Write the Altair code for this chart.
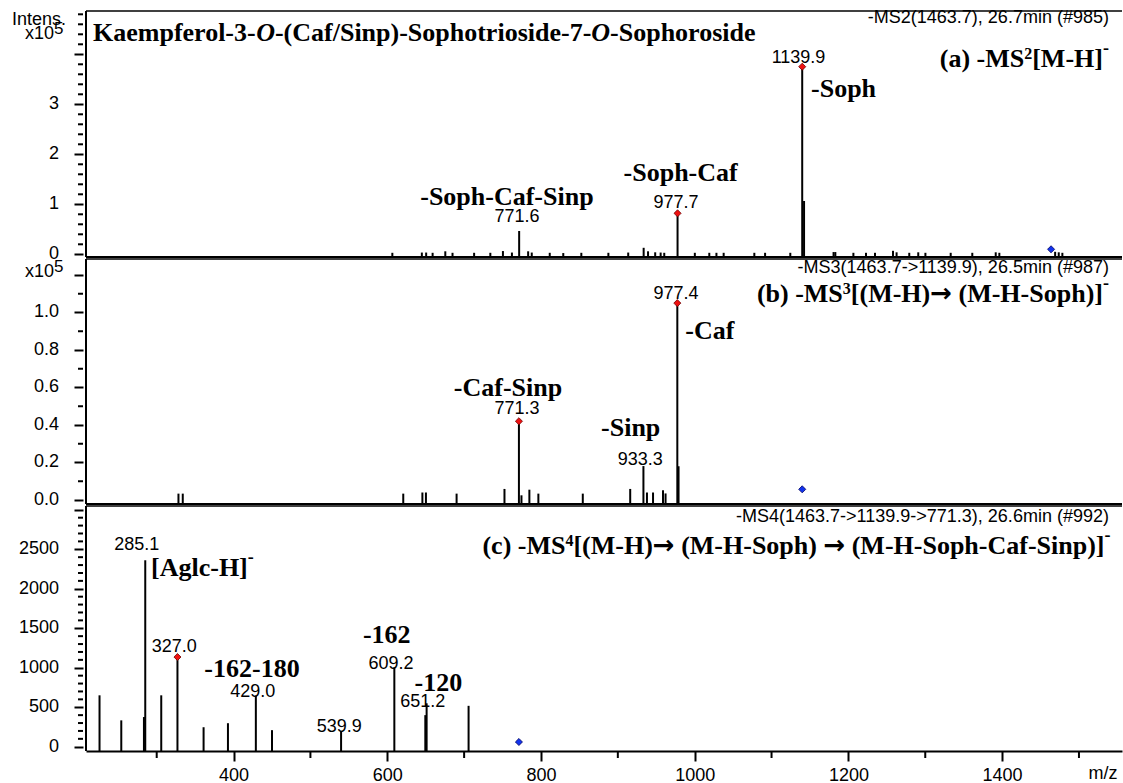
import altair as alt
import pandas as pd

SANS = "Liberation Sans"
SERIF = "Liberation Serif"
ARROW_FONT = "DejaVu Sans"

X_DOMAIN = [208, 1556]
PANEL_W = 1036
H_A, H_B, H_C = 246, 245, 245

# ---------------- panel (a): -MS2 [M-H]- ----------------
mz_a = [606.6, 645.0, 650.6, 659.0, 675.5, 684.9, 713.0, 734.1, 750.5, 762.2,
        771.6, 783.3, 788.0, 811.4, 829.0, 852.5, 887.7, 913.5, 933.6, 939.3,
        948.6, 955.7, 960.4, 977.7, 1000.2, 1019.0, 1028.3, 1037.7, 1077.6, 1091.6,
        1124.4, 1139.9, 1142.3, 1180.7, 1183.0, 1206.5, 1222.9, 1234.6, 1258.0, 1262.7,
        1279.2, 1290.9, 1300.2, 1333.1, 1361.2, 1391.7, 1396.4, 1469.0, 1473.7, 1478.4]
int_a = [3000, 3500, 3500, 3000, 6000, 3000, 3000, 3000, 6500, 3500,
         46600, 6000, 3500, 3000, 2500, 3000, 3000, 3500, 13000, 6000,
         4000, 3500, 3000, 82000, 3000, 3000, 3000, 3000, 3000, 3000,
         3000, 375200, 106600, 4500, 4500, 3000, 3000, 3000, 7000, 4000,
         3000, 4000, 3000, 3000, 3000, 4000, 3000, 5000, 4000, 3000]
red_mz_a = [977.7, 1139.9]
red_int_a = [82000, 375200]
blue_mz_a = [1463.7]
blue_int_a = [10000]
ydom_a = [-5400, 486600]

ann_a_text = ["-MS2(1463.7), 26.7min (#985)", "1139.9", "-Soph",
              "-Soph-Caf", "977.7", "-Soph-Caf-Sinp", "771.6"]
ann_a_mz = [1539, 1135.1, 1151.4, 981.7, 975.7, 755.7, 768.8]
ann_a_int = [472000, 393200, 330000, 163200, 103200, 114200, 75600]
ann_a_kind = ["scan", "num", "fragL", "frag", "num", "frag", "num"]

title_pieces = ["Kaempferol-3-", "O", "-(Caf/Sinp)-Sophotrioside-7-", "O", "-Sophoroside"]
title_styles = ["normal", "italic", "normal", "italic", "normal"]
title_mz = 217.1
title_int = 443200

# headline of panel (a): (text, role) pieces -> "(a) -MS²[M-H]⁻"
head_a = [("(a) -MS", "main"), ("2", "sup"), ("[M-H]", "main"), ("-", "minus")]
head_a_mz, head_a_int = 1539, 390000

# ---------------- panel (b): -MS3 ----------------
mz_b = [328.3, 333.9, 620.8, 645.7, 650.3, 690.2, 752.5, 771.3, 774.6, 784.9,
        796.6, 854.4, 916.1, 933.3, 937.9, 945.8, 958.8, 962.1, 977.4, 979.0]
int_b = [3400, 3400, 3400, 4000, 4000, 3400, 5900, 42000, 2500, 5500,
         3400, 3400, 5900, 18100, 4000, 4000, 5200, 3500, 105000, 18000]
red_mz_b = [771.3, 977.4]
red_int_b = [42000, 105000]
blue_mz_b = [1139.9]
blue_int_b = [5700]
ydom_b = [-2133, 128530]

ann_b_text = ["-MS3(1463.7->1139.9), 26.5min (#987)",
              "977.4", "-Caf", "-Sinp", "933.3", "-Caf-Sinp", "771.3"]
ann_b_mz = [1539, 975.7, 987.8, 916.7, 929.3, 757.1, 768.8]
ann_b_int = [123900, 110000, 90130, 38560, 21170, 59570, 48370]
ann_b_kind = ["scan", "num", "fragL", "frag", "num", "frag", "num"]

head_b = [("(b) -MS", "main"), ("3", "sup"), ("[(M-H)", "main"), ("→", "arrow"),
          (" (M-H-Soph)]", "main"), ("-", "minus")]
head_b_mz, head_b_int = 1539, 109700

# ---------------- panel (c): -MS4 ----------------
mz_c = [225.6, 253.9, 283.4, 285.1, 305.9, 327.0, 361.0, 392.7, 429.0, 450.0,
        539.9, 609.2, 649.5, 651.2, 705.8]
int_c = [651, 334, 376, 2361, 651, 1136, 247, 298, 648, 210,
         200, 1006, 400, 550, 518]
red_mz_c = [327.0]
red_int_c = [1136]
blue_mz_c = [771.3]
blue_int_c = [60]
ydom_c = [-54, 3048]

ann_c_text = ["-MS4(1463.7->1139.9->771.3), 26.6min (#992)",
              "285.1", "327.0", "-162-180", "429.0", "-162", "609.2",
              "-120", "651.2", "539.9"]
ann_c_mz = [1539, 274.0, 322.8, 424.0, 424.9, 599.3, 604.9, 666.4, 646.1, 537.6]
ann_c_int = [2909, 2554, 1266, 988, 693, 1411, 1051, 811, 566, 253]
ann_c_kind = ["scan", "num", "num", "frag", "num", "frag", "num", "frag", "num", "num"]

head_c = [("(c) -MS", "main"), ("4", "sup"), ("[(M-H)", "main"), ("→", "arrow"),
          (" (M-H-Soph) ", "main"), ("→", "arrow"), (" (M-H-Soph-Caf-Sinp)]", "main"),
          ("-", "minus")]
head_c_mz, head_c_int = 1541, 2542
aglc_c = [("[Aglc-H]", "main"), ("-", "minus")]
aglc_c_mz, aglc_c_int = 292.6, 2267

# ---------------- ticks and tick labels ----------------
ymaj_a = [0, 100000, 200000, 300000, 400000]
ymin_a = [v for v in range(0, 480001, 20000) if v % 100000 != 0]
ylab_a_val = [0, 100000, 200000, 300000]
ylab_a_txt = ["0", "1", "2", "3"]

ymaj_b = list(range(0, 120001, 20000))
ymin_b = list(range(10000, 120001, 20000))
ylab_b_val = [0, 20000, 40000, 60000, 80000, 100000]
ylab_b_txt = ["0.0", "0.2", "0.4", "0.6", "0.8", "1.0"]

ymaj_c = list(range(0, 3001, 500))
ymin_c = [v for v in range(0, 3001, 100) if v % 500 != 0]
ylab_c_val = [0, 500, 1000, 1500, 2000, 2500]
ylab_c_txt = ["0", "500", "1000", "1500", "2000", "2500"]

xmaj = [400, 600, 800, 1000, 1200, 1400]
xmin = [300, 500, 700, 900, 1100, 1300, 1500]

# ---------------- font metrics (Times/Liberation Serif Bold, per 1000 em) ----------------
TB = {' ': 250, '(': 333, ')': 333, '-': 333, '.': 250, '/': 278, '[': 333, ']': 333,
      'A': 722, 'B': 667, 'C': 722, 'D': 722, 'E': 667, 'F': 611, 'G': 778, 'H': 778,
      'I': 389, 'K': 778, 'L': 667, 'M': 944, 'N': 722, 'O': 778, 'P': 611, 'R': 722,
      'S': 556, 'T': 667,
      'a': 500, 'b': 556, 'c': 444, 'd': 556, 'e': 444, 'f': 333, 'g': 500, 'h': 556,
      'i': 278, 'k': 556, 'l': 278, 'm': 833, 'n': 556, 'o': 500, 'p': 556, 'r': 444,
      's': 389, 't': 333, 'u': 556, 'v': 500, 'w': 722, 'x': 500, 'y': 500, 'z': 444}

ROLE = {
    "main": dict(font=SERIF, size=26, dy=0, style="normal"),
    "sup": dict(font=SERIF, size=16, dy=-5, style="normal"),
    "minus": dict(font=SERIF, size=18, dy=-10, style="normal"),
    "arrow": dict(font=ARROW_FONT, size=26, dy=0, style="normal"),
    "ital": dict(font=SERIF, size=26, dy=0, style="italic"),
}


def seg_width(text, role):
    if text == "":
        return 0.0
    size = ROLE[role]["size"]
    if role == "arrow":
        return 0.838 * size
    if role == "ital":
        return 0.722 * size
    return sum(TB.get(ch, 500) for ch in text) / 1000.0 * size


# ---------------- axes ----------------
def y_axis(values):
    return alt.Axis(values=values, labels=False, tickSize=9,
                    offset=3, domain=False, grid=False, ticks=True, tickColor="black", tickWidth=2,
                    title=None)


yax_a = y_axis(ymaj_a)
yax_b = y_axis(ymaj_b)
yax_c = y_axis(ymaj_c)

xax_c = alt.Axis(values=xmaj, format="d", tickSize=10,
                 domain=True, domainColor="black", domainWidth=2, tickColor="black", tickWidth=2,
                 labelFont=SANS, labelFontSize=18, labelColor="black", labelPadding=5,
                 grid=False, title=None, labelOverlap=False, labelFlush=False)


def xenc(axis):
    return alt.X("mz:Q", scale=alt.Scale(domain=X_DOMAIN, nice=False, zero=False), axis=axis)


def yenc(domain, axis):
    return alt.Y("I:Q", scale=alt.Scale(domain=domain, nice=False, zero=False), axis=axis)


STYLE = {
    "num": dict(align="center", font=SANS, fontSize=18, fontWeight="normal"),
    "scan": dict(align="right", font=SANS, fontSize=18, fontWeight="normal"),
    "frag": dict(align="center", font=SERIF, fontSize=26, fontWeight="bold"),
    "fragL": dict(align="left", font=SERIF, fontSize=26, fontWeight="bold"),
}

frame_df = pd.DataFrame({"k": [0]})


def rich(segments, mz, inten, ydom, yax, xax, anchor="left"):
    """Place bold serif segments one after another (superscripts, arrows)."""
    total = sum(seg_width(t, r) for t, r in segments)
    pos = -total if anchor == "right" else 0.0
    out = []
    for text, role in segments:
        st = ROLE[role]
        core = text.strip(" ")
        lead = len(text) - len(text.lstrip(" "))
        df = pd.DataFrame({"t": [core], "mz": [mz], "I": [inten]})
        out.append(alt.Chart(df).mark_text(
            align="left", baseline="middle", font=st["font"], fontSize=st["size"],
            fontWeight="bold", fontStyle=st["style"], color="black",
            dx=pos + seg_width(" " * lead, "main" if lead else role), dy=st["dy"]).encode(
            x=xenc(xax), y=yenc(ydom, yax), text="t:N"))
        pos += seg_width(text, role)
    return out


def panel(mz, inten, rmz, rint, bmz, bint, texts, tmz, tint, kinds, ydom, yax, xax, height,
          yminor, ylab_val, ylab_txt, extra=()):
    peaks = pd.DataFrame({"mz": mz, "I": inten})
    layers = []
    layers.append(alt.Chart(peaks).mark_rule(color="black", strokeWidth=2).encode(
        x=xenc(xax), y=yenc(ydom, yax), y2=alt.datum(ydom[0])))
    # minor y ticks
    layers.append(alt.Chart(pd.DataFrame({"I": yminor})).mark_rule(color="black", strokeWidth=2).encode(
        y=yenc(ydom, yax), x=alt.value(-3), x2=alt.value(-8)))
    # y tick labels
    layers.append(alt.Chart(pd.DataFrame({"I": ylab_val, "t": ylab_txt})).mark_text(
        align="right", baseline="middle", font=SANS, fontSize=18, color="black").encode(
        y=yenc(ydom, yax), x=alt.value(-27), text="t:N"))
    # frame: top, left, bottom
    layers.append(alt.Chart(frame_df).mark_rule(color="black", strokeWidth=1.5).encode(
        x=alt.value(0), x2=alt.value(PANEL_W), y=alt.value(0)))
    layers.append(alt.Chart(frame_df).mark_rule(color="black", strokeWidth=2).encode(
        x=alt.value(0), y=alt.value(0), y2=alt.value(height)))
    if xax is None:
        layers.append(alt.Chart(frame_df).mark_rule(color="black", strokeWidth=2).encode(
            x=alt.value(0), x2=alt.value(PANEL_W), y=alt.value(height)))
    layers.append(alt.Chart(pd.DataFrame({"mz": rmz, "I": rint})).mark_point(
        shape="diamond", filled=True, size=50, color="#ee1111", stroke="#700000",
        strokeWidth=0.8, opacity=1).encode(x=xenc(xax), y=yenc(ydom, yax)))
    layers.append(alt.Chart(pd.DataFrame({"mz": bmz, "I": bint})).mark_point(
        shape="diamond", filled=True, size=50, color="#1133ee", stroke="#000060",
        strokeWidth=0.8, opacity=1).encode(x=xenc(xax), y=yenc(ydom, yax)))
    ann = pd.DataFrame({"t": texts, "mz": tmz, "I": tint, "kind": kinds})
    for kind, st in STYLE.items():
        sub = ann[ann["kind"] == kind][["t", "mz", "I"]]
        if len(sub) == 0:
            continue
        layers.append(alt.Chart(sub).mark_text(baseline="middle", color="black", **st).encode(
            x=xenc(xax), y=yenc(ydom, yax), text="t:N"))
    layers.extend(extra)
    return alt.layer(*layers).properties(width=PANEL_W, height=height)


def xten(y_main):
    """'x10' with a raised '5' to the left of the axis."""
    return [
        alt.Chart(frame_df).mark_text(align="right", baseline="middle", font=SANS, fontSize=18,
                                      color="black", text="x10").encode(
            x=alt.value(-32), y=alt.value(y_main)),
        alt.Chart(frame_df).mark_text(align="left", baseline="middle", font=SANS, fontSize=17,
                                      color="black", text="5").encode(
            x=alt.value(-32), y=alt.value(y_main - 5)),
    ]


# title pieces of panel (a)
title_segments = [(p, "ital" if s == "italic" else "main") for p, s in zip(title_pieces, title_styles)]
title_layers = rich(title_segments, title_mz, title_int, ydom_a, yax_a, None, anchor="left")

outside_a = [
    alt.Chart(frame_df).mark_text(align="right", baseline="middle", font=SANS, fontSize=18,
                                  color="black", text="Intens.").encode(
        x=alt.value(-20), y=alt.value(9)),
    # invisible layout anchor (fixes the page origin)
    alt.Chart(frame_df).mark_rule(color="white", strokeWidth=0.1).encode(
        x=alt.value(-85), x2=alt.value(-84.9), y=alt.value(-10), y2=alt.value(-9.9)),
] + xten(23)

outside_c = [
    alt.Chart(frame_df).mark_text(align="center", baseline="middle", font=SANS, fontSize=18,
                                  color="black", text="m/z").encode(
        x=alt.value(1017), y=alt.value(268)),
    alt.Chart(pd.DataFrame({"mz": xmin})).mark_rule(color="black", strokeWidth=2).encode(
        x=xenc(xax_c), y=alt.value(H_C + 1), y2=alt.value(H_C + 7)),
]

pa = panel(mz_a, int_a, red_mz_a, red_int_a, blue_mz_a, blue_int_a,
           ann_a_text, ann_a_mz, ann_a_int, ann_a_kind, ydom_a, yax_a, None, H_A, ymin_a,
           ylab_a_val, ylab_a_txt,
           extra=title_layers + outside_a
           + rich(head_a, head_a_mz, head_a_int, ydom_a, yax_a, None, anchor="right"))
pb = panel(mz_b, int_b, red_mz_b, red_int_b, blue_mz_b, blue_int_b,
           ann_b_text, ann_b_mz, ann_b_int, ann_b_kind, ydom_b, yax_b, None, H_B, ymin_b,
           ylab_b_val, ylab_b_txt,
           extra=xten(13) + rich(head_b, head_b_mz, head_b_int, ydom_b, yax_b, None, anchor="right"))
pc = panel(mz_c, int_c, red_mz_c, red_int_c, blue_mz_c, blue_int_c,
           ann_c_text, ann_c_mz, ann_c_int, ann_c_kind, ydom_c, yax_c, xax_c, H_C, ymin_c,
           ylab_c_val, ylab_c_txt,
           extra=outside_c
           + rich(head_c, head_c_mz, head_c_int, ydom_c, yax_c, xax_c, anchor="right")
           + rich(aglc_c, aglc_c_mz, aglc_c_int, ydom_c, yax_c, xax_c, anchor="left"))

chart = alt.vconcat(pa, pb, pc, spacing=2, bounds="flush").properties(
    padding=0, background="white").configure_view(stroke=None)

chart.save("out.html", embed_options={"renderer": "svg", "actions": False})
